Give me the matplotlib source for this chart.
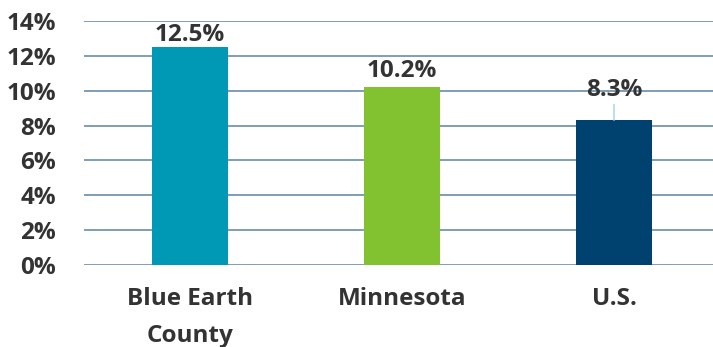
import matplotlib
matplotlib.use("Agg")
import matplotlib.pyplot as plt
from matplotlib.ticker import FuncFormatter

categories = ["Blue Earth\nCounty", "Minnesota", "U.S."]
values = [12.5, 10.2, 8.3]
colors = ["#0099B5", "#82C12F", "#00426F"]
label_text = ["12.5%", "10.2%", "8.3%"]
yticks = [0, 2, 4, 6, 8, 10, 12, 14]

plt.rcParams['font.family'] = ['Open Sans', 'DejaVu Sans']
FS = 17.5

fig = plt.figure(figsize=(7.13, 3.47), dpi=100)
ax = fig.add_axes([84/713, 1-265/347, 629/713, 244/347])

x = list(range(len(categories)))
ax.bar(x, values, width=0.355, color=colors, zorder=3)

ax.set_ylim(0, 14)
ax.set_xlim(-0.5, 2.5 - 7/212)
ax.set_yticks(yticks)
ax.yaxis.set_major_formatter(FuncFormatter(lambda v, p: f"{int(v)}%"))
ax.yaxis.grid(True, color="#5B84A3", linewidth=1.1, zorder=0)
ax.set_axisbelow(True)
for s in ax.spines.values():
    s.set_visible(False)
ax.tick_params(axis='y', length=0, pad=20, labelsize=FS, labelcolor="#333333")
ax.tick_params(axis='x', length=0, pad=16, labelsize=FS, labelcolor="#333333")
ax.set_xticks(x)
ax.set_xticklabels(categories, fontweight='bold', linespacing=1.7)
for lbl in ax.get_yticklabels():
    lbl.set_fontweight('bold')

# data labels (offsets in points above the bar top)
offsets = [0, 3, 13]
for xi, v, t, off in zip(x, values, label_text, offsets):
    ax.annotate(t, (xi, v), xytext=(0, off), textcoords='offset points',
                ha='center', va='bottom', fontsize=FS, fontweight='bold',
                color="#333333", zorder=4)
# leader line for the U.S. label
ax.annotate("", (x[2], values[2]), xytext=(0, 11.5), textcoords='offset points',
            arrowprops=dict(arrowstyle='-', color="#9FD0EA", lw=1,
                            shrinkA=0, shrinkB=0), zorder=4)

fig.savefig("out.png", dpi=100)
